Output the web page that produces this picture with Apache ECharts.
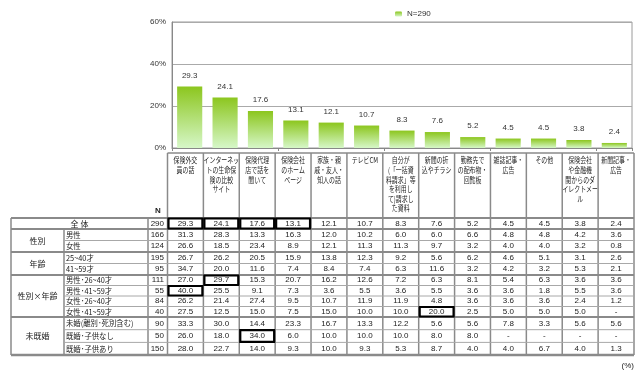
<!DOCTYPE html>
<html>
<head>
<meta charset="utf-8">
<script src="https://cdn.jsdelivr.net/npm/echarts@6/dist/echarts.min.js"></script>
<style>
  html, body { margin: 0; padding: 0; background: #fff; }
  #chart { width: 643px; height: 376px; }
</style>
</head>
<body>
<div id="chart"></div>
<script>
// header labels of the 13 answer columns (wrapped as in the source)
const categories = [
  '保険外交\n員の話',
  'インターネッ\nトの生命保\n険の比較\nサイト',
  '保険代理\n店で話を\n聞いて',
  '保険会社\nのホーム\nページ',
  '家族・親\n戚・友人・\n知人の話',
  'テレビCM',
  '自分が\n(「一括資\n料請求」等\nを利用し\nて)請求し\nた資料',
  '新聞の折\n込やチラシ',
  '勤務先で\nの配布物・\n回覧板',
  '雑誌記事・\n広告',
  'その他',
  '保険会社\nや金融機\n関からのダ\nイレクトメー\nル',
  '新聞記事・\n広告'
];
const seriesName = 'N=290';
const overall = [29.3, 24.1, 17.6, 13.1, 12.1, 10.7, 8.3, 7.6, 5.2, 4.5, 4.5, 3.8, 2.4];
const yTicks = [0, 20, 40, 60];

const groupLabels = ['全 体', '性別', '年齢', '性別×年齢', '未既婚'];
const groupSizes = [1, 2, 2, 4, 3];
const rowLabels = ['', '男性', '女性', '25~40才', '41~59才',
  '男性･26~40才', '男性･41~59才', '女性･26~40才', '女性･41~59才',
  '未婚(離別･死別含む)', '既婚･子供なし', '既婚･子供あり'];
const rowN = [290, 166, 124, 195, 95, 111, 55, 84, 40, 90, 50, 150];
const rowValues = [
  ['29.3', '24.1', '17.6', '13.1', '12.1', '10.7', '8.3', '7.6', '5.2', '4.5', '4.5', '3.8', '2.4'],
  ['31.3', '28.3', '13.3', '16.3', '12.0', '10.2', '6.0', '6.0', '6.6', '4.8', '4.8', '4.2', '3.6'],
  ['26.6', '18.5', '23.4', '8.9', '12.1', '11.3', '11.3', '9.7', '3.2', '4.0', '4.0', '3.2', '0.8'],
  ['26.7', '26.2', '20.5', '15.9', '13.8', '12.3', '9.2', '5.6', '6.2', '4.6', '5.1', '3.1', '2.6'],
  ['34.7', '20.0', '11.6', '7.4', '8.4', '7.4', '6.3', '11.6', '3.2', '4.2', '3.2', '5.3', '2.1'],
  ['27.0', '29.7', '15.3', '20.7', '16.2', '12.6', '7.2', '6.3', '8.1', '5.4', '6.3', '3.6', '3.6'],
  ['40.0', '25.5', '9.1', '7.3', '3.6', '5.5', '3.6', '5.5', '3.6', '3.6', '1.8', '5.5', '3.6'],
  ['26.2', '21.4', '27.4', '9.5', '10.7', '11.9', '11.9', '4.8', '3.6', '3.6', '3.6', '2.4', '1.2'],
  ['27.5', '12.5', '15.0', '7.5', '15.0', '10.0', '10.0', '20.0', '2.5', '5.0', '5.0', '5.0', '-'],
  ['33.3', '30.0', '14.4', '23.3', '16.7', '13.3', '12.2', '5.6', '5.6', '7.8', '3.3', '5.6', '5.6'],
  ['26.0', '18.0', '34.0', '6.0', '10.0', '10.0', '10.0', '8.0', '8.0', '-', '-', '-', '-'],
  ['28.0', '22.7', '14.0', '9.3', '10.0', '9.3', '5.3', '8.7', '4.0', '4.0', '6.7', '4.0', '1.3']
];
// [row, column] of cells framed in bold
const highlights = [[0, 0], [0, 1], [0, 2], [0, 3], [5, 1], [6, 0], [8, 7], [10, 2]];

// table layout
const tLeft = 11, subLeft = 64, nLeft = 148, dataLeft = 167.5, tRight = 634;
const colW = (tRight - dataLeft) / categories.length;
const headTop = 153, bodyTop = 218;
const rowH = [11, 11.5, 11.5, 11.5, 11.5, 10.5, 10.5, 10.5, 10.5, 12.7, 12.7, 12.7];
const rowTop = [];
rowH.reduce((y, h) => { rowTop.push(y); return y + h; }, bodyTop);
const bodyBottom = rowTop[rowTop.length - 1] + rowH[rowH.length - 1];

const jp = '"Noto Sans CJK JP", sans-serif';
const num = '"Liberation Sans", Arial, sans-serif';
const gray = '#8a8a8a';

const line = (x1, y1, x2, y2, w, c) => ({
  type: 'line', silent: true,
  shape: {x1, y1, x2, y2},
  style: {stroke: c || gray, lineWidth: w || 1}
});
const text = (x, y, t, align, font, vAlign, sx) => ({
  type: 'text', silent: true,
  x, y, scaleX: sx || 1,
  style: {x: 0, y: 0, text: t, textAlign: align, textVerticalAlign: vAlign || 'middle',
    font: font || ('8px ' + jp), fill: '#222', lineHeight: 9.6}
});

const graphics = [];

// header cells
graphics.push(line(dataLeft, headTop, tRight, headTop, 1.5));
categories.forEach((c, i) => {
  graphics.push(text(dataLeft + colW * (i + 0.5), headTop + 2.5, c, 'center', '8px ' + jp, 'top', 0.74));
});
graphics.push(text(nLeft + 10, 211, 'N', 'center', 'bold 8px ' + num));

// vertical lines
for (let i = 0; i <= categories.length; i++) {
  const x = dataLeft + colW * i;
  graphics.push(line(x, headTop, x, bodyBottom, 1.5));
}
graphics.push(line(tLeft, bodyTop, tLeft, bodyBottom, 1.5));
graphics.push(line(nLeft, bodyTop, nLeft, bodyBottom, 1.5));
graphics.push(line(subLeft, rowTop[1], subLeft, bodyBottom, 1.5));

// horizontal lines + text
graphics.push(line(tLeft, bodyTop, tRight, bodyTop, 2));
let r = 0;
groupLabels.forEach((g, gi) => {
  const n = groupSizes[gi];
  const gTop = rowTop[r];
  const gBottom = rowTop[r + n - 1] + rowH[r + n - 1];
  if (gi === 0) {
    graphics.push(text((tLeft + nLeft) / 2, (gTop + gBottom) / 2, g, 'center'));
  } else {
    graphics.push(text((tLeft + subLeft) / 2, (gTop + gBottom) / 2, g, 'center'));
  }
  for (let k = 0; k < n; k++) {
    const row = r + k;
    const yc = rowTop[row] + rowH[row] / 2;
    if (rowLabels[row]) graphics.push(text(subLeft + 2, yc, rowLabels[row], 'left', '8px ' + jp, 'middle', 0.92));
    graphics.push(text(nLeft + 16, yc, String(rowN[row]), 'right', '8px ' + num));
    rowValues[row].forEach((v, ci) => {
      graphics.push(text(dataLeft + colW * (ci + 0.5), yc, v, 'center', '8px ' + num));
    });
    if (k < n - 1) {
      const yb = rowTop[row] + rowH[row];
      graphics.push(line(subLeft, yb, tRight, yb, 1, '#a8a8a8'));
    }
  }
  graphics.push(line(tLeft, gBottom, tRight, gBottom, gi === groupLabels.length - 1 ? 2.5 : 2));
  r += n;
});

// bold frames
highlights.forEach(([row, ci]) => {
  graphics.push({
    type: 'rect', silent: true, z: 10,
    shape: {x: dataLeft + colW * ci + 1, y: rowTop[row] + 0.5, width: colW - 2, height: rowH[row] - 1},
    style: {fill: 'none', stroke: '#000', lineWidth: 2.2}
  });
});

graphics.push(text(tRight, 366, '(%)', 'right', '8px ' + num));

const chart = echarts.init(document.getElementById('chart'));
chart.setOption({
  animation: false,
  textStyle: {fontFamily: num},
  legend: {
    top: 5, left: 390,
    itemWidth: 7, itemHeight: 5,
    textStyle: {fontSize: 8, color: '#333'},
    data: [seriesName]
  },
  grid: {
    left: 172, right: 11, top: 22, bottom: 228,
    show: true, borderColor: '#9a9a9a', borderWidth: 1
  },
  xAxis: {
    type: 'category',
    data: categories,
    axisLine: {lineStyle: {color: '#888'}},
    axisTick: {show: true, length: 3, lineStyle: {color: '#888'}},
    axisLabel: {show: false}
  },
  yAxis: {
    type: 'value',
    min: yTicks[0], max: yTicks[yTicks.length - 1], interval: 20,
    axisLine: {show: true, lineStyle: {color: '#888'}},
    axisTick: {show: false},
    axisLabel: {formatter: '{value}%', fontSize: 8, color: '#333', margin: 6},
    splitLine: {lineStyle: {color: '#aaa'}}
  },
  series: [{
    name: seriesName,
    type: 'bar',
    data: overall,
    barWidth: '71%',
    itemStyle: {
      color: new echarts.graphic.LinearGradient(0, 0, 0, 1, [
        {offset: 0, color: '#8cc61e'},
        {offset: 1, color: '#d6f7c8'}
      ])
    },
    label: {
      show: true, position: 'top', distance: 7,
      fontSize: 8, color: '#333',
      formatter: p => p.value.toFixed(1)
    }
  }],
  graphic: graphics
});
</script>
</body>
</html>
